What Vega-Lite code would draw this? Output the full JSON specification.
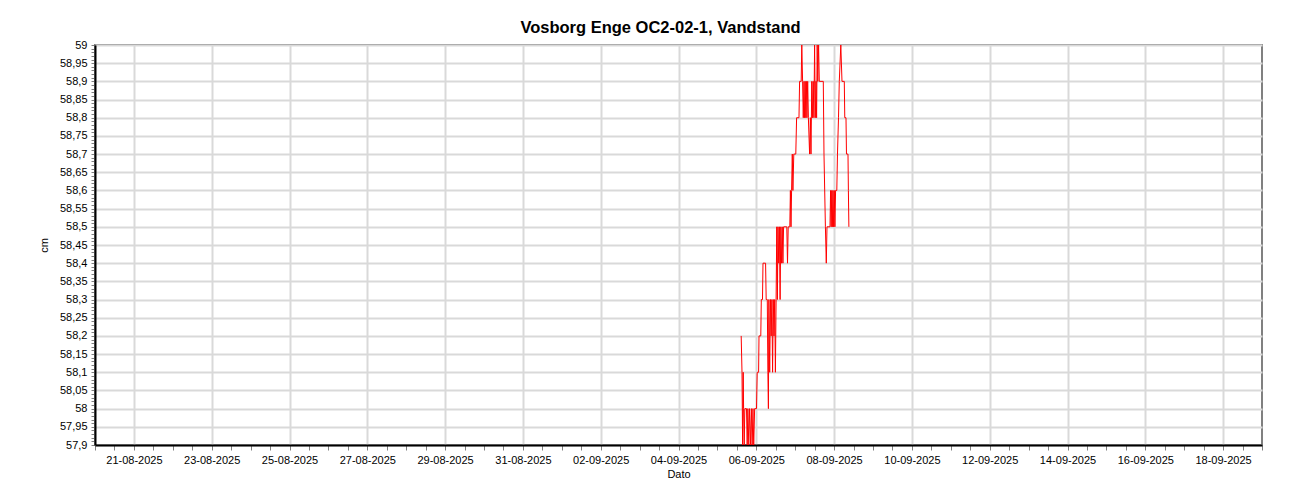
{
  "$schema": "https://vega.github.io/schema/vega-lite/v6.json",
  "width": 1167,
  "height": 400,
  "autosize": {"type": "none"},
  "padding": {"left": 95, "top": 45, "right": 38, "bottom": 55},
  "background": "white",
  "title": {"text": "Vosborg Enge OC2-02-1, Vandstand", "fontSize": 16.5, "font": "Liberation Sans", "fontWeight": "bold", "color": "black", "offset": 3, "dx": -18},
  "config": {"view": {"stroke": "#808080", "strokeWidth": 2}},
  "data": {"values": [
    {"t": "2025-09-05T14:40", "v": 58.2},
    {"t": "2025-09-05T15:11", "v": 58.1},
    {"t": "2025-09-05T15:33", "v": 57.9},
    {"t": "2025-09-05T15:55", "v": 58.1},
    {"t": "2025-09-05T16:10", "v": 58.0},
    {"t": "2025-09-05T16:32", "v": 57.9},
    {"t": "2025-09-05T16:55", "v": 58.0},
    {"t": "2025-09-05T17:57", "v": 58.0},
    {"t": "2025-09-05T18:23", "v": 57.9},
    {"t": "2025-09-05T18:48", "v": 58.0},
    {"t": "2025-09-05T19:22", "v": 57.9},
    {"t": "2025-09-05T19:50", "v": 58.0},
    {"t": "2025-09-05T20:29", "v": 57.9},
    {"t": "2025-09-05T20:58", "v": 58.0},
    {"t": "2025-09-05T21:27", "v": 57.9},
    {"t": "2025-09-05T21:57", "v": 58.0},
    {"t": "2025-09-05T22:25", "v": 57.9},
    {"t": "2025-09-05T22:58", "v": 58.0},
    {"t": "2025-09-06T00:07", "v": 58.0},
    {"t": "2025-09-06T00:33", "v": 58.1},
    {"t": "2025-09-06T01:25", "v": 58.1},
    {"t": "2025-09-06T01:40", "v": 58.2},
    {"t": "2025-09-06T02:46", "v": 58.2},
    {"t": "2025-09-06T03:05", "v": 58.3},
    {"t": "2025-09-06T03:49", "v": 58.3},
    {"t": "2025-09-06T04:08", "v": 58.4},
    {"t": "2025-09-06T05:44", "v": 58.4},
    {"t": "2025-09-06T06:06", "v": 58.3},
    {"t": "2025-09-06T06:47", "v": 58.3},
    {"t": "2025-09-06T07:09", "v": 58.1},
    {"t": "2025-09-06T07:28", "v": 58.0},
    {"t": "2025-09-06T07:46", "v": 58.3},
    {"t": "2025-09-06T08:16", "v": 58.1},
    {"t": "2025-09-06T08:45", "v": 58.3},
    {"t": "2025-09-06T09:11", "v": 58.2},
    {"t": "2025-09-06T09:37", "v": 58.3},
    {"t": "2025-09-06T10:03", "v": 58.1},
    {"t": "2025-09-06T10:29", "v": 58.3},
    {"t": "2025-09-06T10:55", "v": 58.2},
    {"t": "2025-09-06T11:21", "v": 58.3},
    {"t": "2025-09-06T11:47", "v": 58.1},
    {"t": "2025-09-06T12:13", "v": 58.3},
    {"t": "2025-09-06T12:38", "v": 58.5},
    {"t": "2025-09-06T13:01", "v": 58.3},
    {"t": "2025-09-06T13:23", "v": 58.5},
    {"t": "2025-09-06T13:49", "v": 58.4},
    {"t": "2025-09-06T14:15", "v": 58.5},
    {"t": "2025-09-06T14:41", "v": 58.3},
    {"t": "2025-09-06T15:07", "v": 58.5},
    {"t": "2025-09-06T15:33", "v": 58.4},
    {"t": "2025-09-06T15:59", "v": 58.5},
    {"t": "2025-09-06T16:25", "v": 58.4},
    {"t": "2025-09-06T16:50", "v": 58.5},
    {"t": "2025-09-06T18:49", "v": 58.5},
    {"t": "2025-09-06T19:15", "v": 58.4},
    {"t": "2025-09-06T19:41", "v": 58.5},
    {"t": "2025-09-06T20:40", "v": 58.5},
    {"t": "2025-09-06T21:02", "v": 58.6},
    {"t": "2025-09-06T21:24", "v": 58.5},
    {"t": "2025-09-06T21:46", "v": 58.6},
    {"t": "2025-09-06T22:12", "v": 58.7},
    {"t": "2025-09-06T22:35", "v": 58.6},
    {"t": "2025-09-06T23:08", "v": 58.7},
    {"t": "2025-09-07T00:22", "v": 58.7},
    {"t": "2025-09-07T00:52", "v": 58.8},
    {"t": "2025-09-07T02:20", "v": 58.8},
    {"t": "2025-09-07T02:43", "v": 58.9},
    {"t": "2025-09-07T03:42", "v": 58.9},
    {"t": "2025-09-07T04:04", "v": 59.0},
    {"t": "2025-09-07T04:34", "v": 58.9},
    {"t": "2025-09-07T04:59", "v": 58.8},
    {"t": "2025-09-07T05:25", "v": 58.9},
    {"t": "2025-09-07T05:47", "v": 58.8},
    {"t": "2025-09-07T06:10", "v": 58.9},
    {"t": "2025-09-07T06:32", "v": 58.8},
    {"t": "2025-09-07T06:54", "v": 58.9},
    {"t": "2025-09-07T07:16", "v": 58.8},
    {"t": "2025-09-07T07:42", "v": 58.9},
    {"t": "2025-09-07T08:08", "v": 58.8},
    {"t": "2025-09-07T08:53", "v": 58.7},
    {"t": "2025-09-07T09:22", "v": 58.8},
    {"t": "2025-09-07T09:44", "v": 58.7},
    {"t": "2025-09-07T10:14", "v": 58.9},
    {"t": "2025-09-07T10:40", "v": 58.8},
    {"t": "2025-09-07T11:06", "v": 58.9},
    {"t": "2025-09-07T11:32", "v": 58.8},
    {"t": "2025-09-07T11:58", "v": 59.0},
    {"t": "2025-09-07T12:24", "v": 58.8},
    {"t": "2025-09-07T12:50", "v": 58.9},
    {"t": "2025-09-07T13:12", "v": 58.8},
    {"t": "2025-09-07T13:34", "v": 59.0},
    {"t": "2025-09-07T13:56", "v": 58.9},
    {"t": "2025-09-07T14:26", "v": 59.0},
    {"t": "2025-09-07T14:52", "v": 58.9},
    {"t": "2025-09-07T17:20", "v": 58.9},
    {"t": "2025-09-07T17:46", "v": 58.7},
    {"t": "2025-09-07T18:38", "v": 58.5},
    {"t": "2025-09-07T19:11", "v": 58.4},
    {"t": "2025-09-07T19:37", "v": 58.5},
    {"t": "2025-09-07T21:28", "v": 58.5},
    {"t": "2025-09-07T21:50", "v": 58.6},
    {"t": "2025-09-07T22:12", "v": 58.5},
    {"t": "2025-09-07T22:34", "v": 58.6},
    {"t": "2025-09-07T22:56", "v": 58.5},
    {"t": "2025-09-07T23:19", "v": 58.6},
    {"t": "2025-09-07T23:41", "v": 58.5},
    {"t": "2025-09-08T00:07", "v": 58.6},
    {"t": "2025-09-08T00:29", "v": 58.5},
    {"t": "2025-09-08T00:55", "v": 58.6},
    {"t": "2025-09-08T01:40", "v": 58.6},
    {"t": "2025-09-08T02:05", "v": 58.7},
    {"t": "2025-09-08T02:43", "v": 58.8},
    {"t": "2025-09-08T03:12", "v": 58.9},
    {"t": "2025-09-08T04:08", "v": 59.0},
    {"t": "2025-09-08T04:52", "v": 58.9},
    {"t": "2025-09-08T06:17", "v": 58.9},
    {"t": "2025-09-08T06:35", "v": 58.8},
    {"t": "2025-09-08T07:20", "v": 58.8},
    {"t": "2025-09-08T07:38", "v": 58.7},
    {"t": "2025-09-08T08:34", "v": 58.7},
    {"t": "2025-09-08T08:49", "v": 58.6},
    {"t": "2025-09-08T09:07", "v": 58.5}
  ]},
  "mark": {"type": "line", "color": "#ff0000", "strokeWidth": 1, "clip": true},
  "encoding": {
    "x": {
      "field": "t", "type": "temporal",
      "scale": {"domain": [{"year": 2025, "month": 8, "date": 20}, {"year": 2025, "month": 9, "date": 19}]},
      "axis": {
        "title": "Dato", "titleFont": "Liberation Sans", "titleFontSize": 11, "titleFontWeight": "normal", "titleColor": "black", "titlePadding": 3,
        "tickCount": 60,
        "labelExpr": "(hours(datum.value)==0 && floor((datum.value - datetime(2025,7,21))/86400000 + 0.5) % 2 == 0) ? timeFormat(datum.value,'%d-%m-%Y') : ''",
        "gridOpacity": {"condition": {"test": "hours(datum.value)==0 && floor((datum.value - datetime(2025,7,21))/86400000 + 0.5) % 2 == 0", "value": 1}, "value": 0},
        "gridColor": "#d9d9d9", "gridWidth": 2,
        "domainColor": "black", "domainWidth": 2,
        "tickColor": "#808080", "tickSize": 5,
        "labelFont": "Liberation Sans", "labelFontSize": 11, "labelColor": "black", "labelOverlap": false, "labelFlush": false, "labelPadding": 4
      }
    },
    "y": {
      "field": "v", "type": "quantitative",
      "scale": {"domain": [57.9, 59], "nice": false, "zero": false},
      "axis": {
        "title": "cm", "titleFont": "Liberation Sans", "titleFontSize": 11, "titleFontWeight": "normal", "titleColor": "black", "titlePadding": 10,
        "tickCount": 110,
        "labelExpr": "abs(datum.value*20-round(datum.value*20))<0.01 ? replace(format(datum.value,'.2~f'),'.',',') : ''",
        "gridOpacity": {"condition": {"test": "abs(datum.value*20-round(datum.value*20))<0.01", "value": 1}, "value": 0},
        "gridColor": "#d9d9d9", "gridWidth": 2,
        "domainColor": "black", "domainWidth": 2,
        "tickColor": "#808080", "tickSize": 4,
        "labelFont": "Liberation Sans", "labelFontSize": 11, "labelColor": "black", "labelOverlap": false, "labelFlush": false, "labelPadding": 4
      }
    }
  }
}
